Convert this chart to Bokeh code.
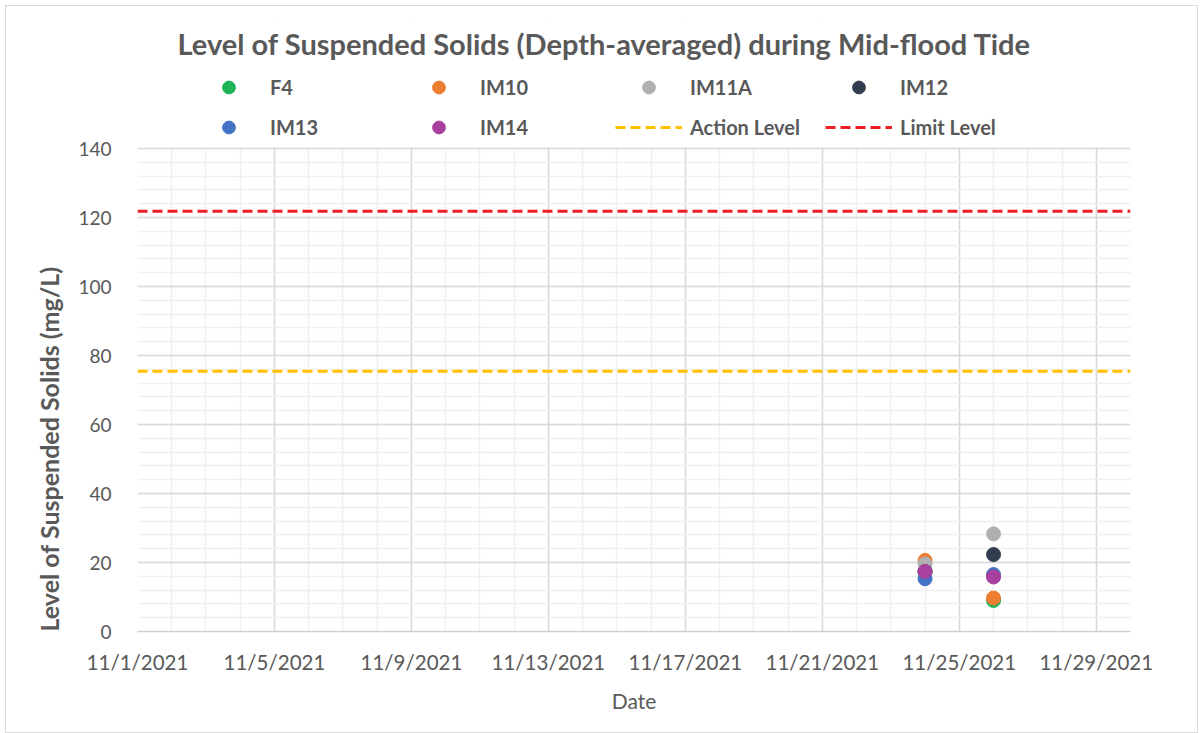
import pandas as pd
from bokeh.plotting import figure
from bokeh.models import (FixedTicker, CustomJSTickFormatter, Legend, LegendItem,
                          Title, Label, Range1d, ColumnDataSource, BoxAnnotation)
from bokeh.embed import file_html
from bokeh.resources import INLINE

# ---------------- data ----------------
TITLE = "Level of Suspended Solids (Depth-averaged) during Mid-flood Tide"
Y_TITLE = "Level of Suspended Solids (mg/L)"
X_TITLE = "Date"

dates = ["2021-11-24", "2021-11-26"]
F4 = [17.4, 9.0]
IM10 = [20.6, 9.7]
IM11A = [19.6, 28.3]
IM12 = [17.4, 22.3]
IM13 = [15.3, 16.5]
IM14 = [17.4, 15.8]

action_level = 75.4
limit_level = 121.8

x_start = "2021-11-01"
x_end = "2021-11-30"
x_tick_dates = ["2021-11-01", "2021-11-05", "2021-11-09", "2021-11-13",
                "2021-11-17", "2021-11-21", "2021-11-25", "2021-11-29"]
x_tick_labels = ["11/1/2021", "11/5/2021", "11/9/2021", "11/13/2021",
                 "11/17/2021", "11/21/2021", "11/25/2021", "11/29/2021"]
y_ticks = [0, 20, 40, 60, 80, 100, 120, 140]
y_minor_step = 4

series_names = ["F4", "IM10", "IM11A", "IM12", "IM13", "IM14"]
series_values = [F4, IM10, IM11A, IM12, IM13, IM14]
series_colors = ["#1DB254", "#ED7D31", "#B0B0B3", "#323E50", "#4472C4", "#A8409D"]
action_color, limit_color = "#FFC000", "#EE1C25"

# ---------------- layout / styling ----------------
FONT = "Lato"
TXT = "#595959"
W, H = 1193, 728
B_LEFT, B_TOP, B_RIGHT, B_BOTTOM = 131, 15, 69, 103
PLOT_PX = 483                      # pixel height of the 0..140 area
FRAME_PX = H - B_TOP - B_BOTTOM    # frame also holds title + legend at the top
y_top = y_ticks[-1] * FRAME_PX / PLOT_PX

def ms(d):
    return pd.Timestamp(d).value // 10**6

p = figure(width=W, height=H, output_backend="svg", toolbar_location=None,
           x_axis_type="datetime",
           x_range=Range1d(pd.Timestamp(x_start), pd.Timestamp(x_end)),
           y_range=Range1d(y_ticks[0], y_top),
           min_border_left=B_LEFT, min_border_top=B_TOP,
           min_border_right=B_RIGHT, min_border_bottom=B_BOTTOM,
           margin=(5, 0, 0, 5))
p.outline_line_color = None
p.background_fill_color = "white"
p.border_fill_color = "white"
p.styles = {"border": "1px solid #d9d9d9"}

day_ms = 24 * 3600 * 1000
minor_x = list(range(ms(x_start), ms(x_end) + 1, day_ms))
p.xaxis.ticker = FixedTicker(ticks=[ms(d) for d in x_tick_dates], minor_ticks=minor_x)
p.xaxis.formatter = CustomJSTickFormatter(
    args=dict(tick_vals=[ms(d) for d in x_tick_dates], tick_labels=x_tick_labels),
    code="const i = tick_vals.indexOf(tick); return i >= 0 ? tick_labels[i] : '';")
p.yaxis.ticker = FixedTicker(ticks=y_ticks,
                             minor_ticks=list(range(y_ticks[0], y_ticks[-1] + 1, y_minor_step)))

for ax in (p.xaxis[0], p.yaxis[0]):
    ax.major_tick_line_color = None
    ax.minor_tick_line_color = None
    ax.major_label_text_font = FONT
    ax.major_label_text_color = TXT
p.yaxis.major_label_text_font_size = "19px"
p.xaxis.major_label_text_font_size = "20.5px"
p.yaxis.axis_line_color = None
p.yaxis.major_label_standoff = 20
p.xaxis.axis_line_color = "#d0d0d0"
p.xaxis.axis_line_width = 1.5
p.xaxis.major_label_standoff = 12
p.xaxis.axis_label = X_TITLE
p.xaxis.axis_label_text_font = FONT
p.xaxis.axis_label_text_font_style = "normal"
p.xaxis.axis_label_text_font_size = "21px"
p.xaxis.axis_label_text_color = TXT
p.xaxis.axis_label_standoff = 11

for g in (p.xgrid[0], p.ygrid[0]):
    g.grid_line_color = "#d9d9d9"
    g.grid_line_width = 1.5
    g.minor_grid_line_color = "#f0f0f0"
    g.minor_grid_line_width = 1.5

line_x = [pd.Timestamp(x_start), pd.Timestamp(x_end)]
r_action = p.line(line_x, [action_level, action_level], line_color=action_color,
                  line_width=3, line_dash="10 5")
r_limit = p.line(line_x, [limit_level, limit_level], line_color=limit_color,
                 line_width=3, line_dash="10 5")

x_dates = pd.to_datetime(dates)
renderers = []
for name, vals, col in zip(series_names, series_values, series_colors):
    src = ColumnDataSource(dict(x=x_dates, y=vals))
    renderers.append(p.scatter("x", "y", source=src, size=14,
                               fill_color=col, line_color=col))

# white band above the 0..140 plot area (holds the title and legend)
px_per_unit = PLOT_PX / y_ticks[-1]
p.add_layout(BoxAnnotation(bottom=y_ticks[-1] + 1.2 / px_per_unit,
                           fill_color="white", fill_alpha=1.0, line_color=None))

labels = series_names + ["Action Level", "Limit Level"]
items = [LegendItem(label=lab, renderers=[r])
         for lab, r in zip(labels, renderers + [r_action, r_limit])]
legend = Legend(items=items, orientation="horizontal", ncols=4,
                location=(58, PLOT_PX + 5), glyph_width=67, glyph_height=32,
                label_standoff=8, label_width=127, spacing=8,
                padding=5, margin=0, border_line_color=None,
                background_fill_alpha=0,
                label_text_font=FONT, label_text_font_style="bold",
                label_text_font_size="20px", label_text_color=TXT)
p.add_layout(legend)

p.add_layout(Label(x=467, y=PLOT_PX + 105, x_units="screen", y_units="screen", text=TITLE,
                   text_align="center", text_baseline="middle",
                   text_font=FONT, text_font_style="bold", text_font_size="29px",
                   text_color=TXT))

p.add_layout(Title(text=Y_TITLE, align="left", offset=0, standoff=23,
                   text_font=FONT, text_font_style="bold", text_font_size="25px",
                   text_color=TXT), "left")

open("out.html", "w").write(file_html(p, INLINE))
